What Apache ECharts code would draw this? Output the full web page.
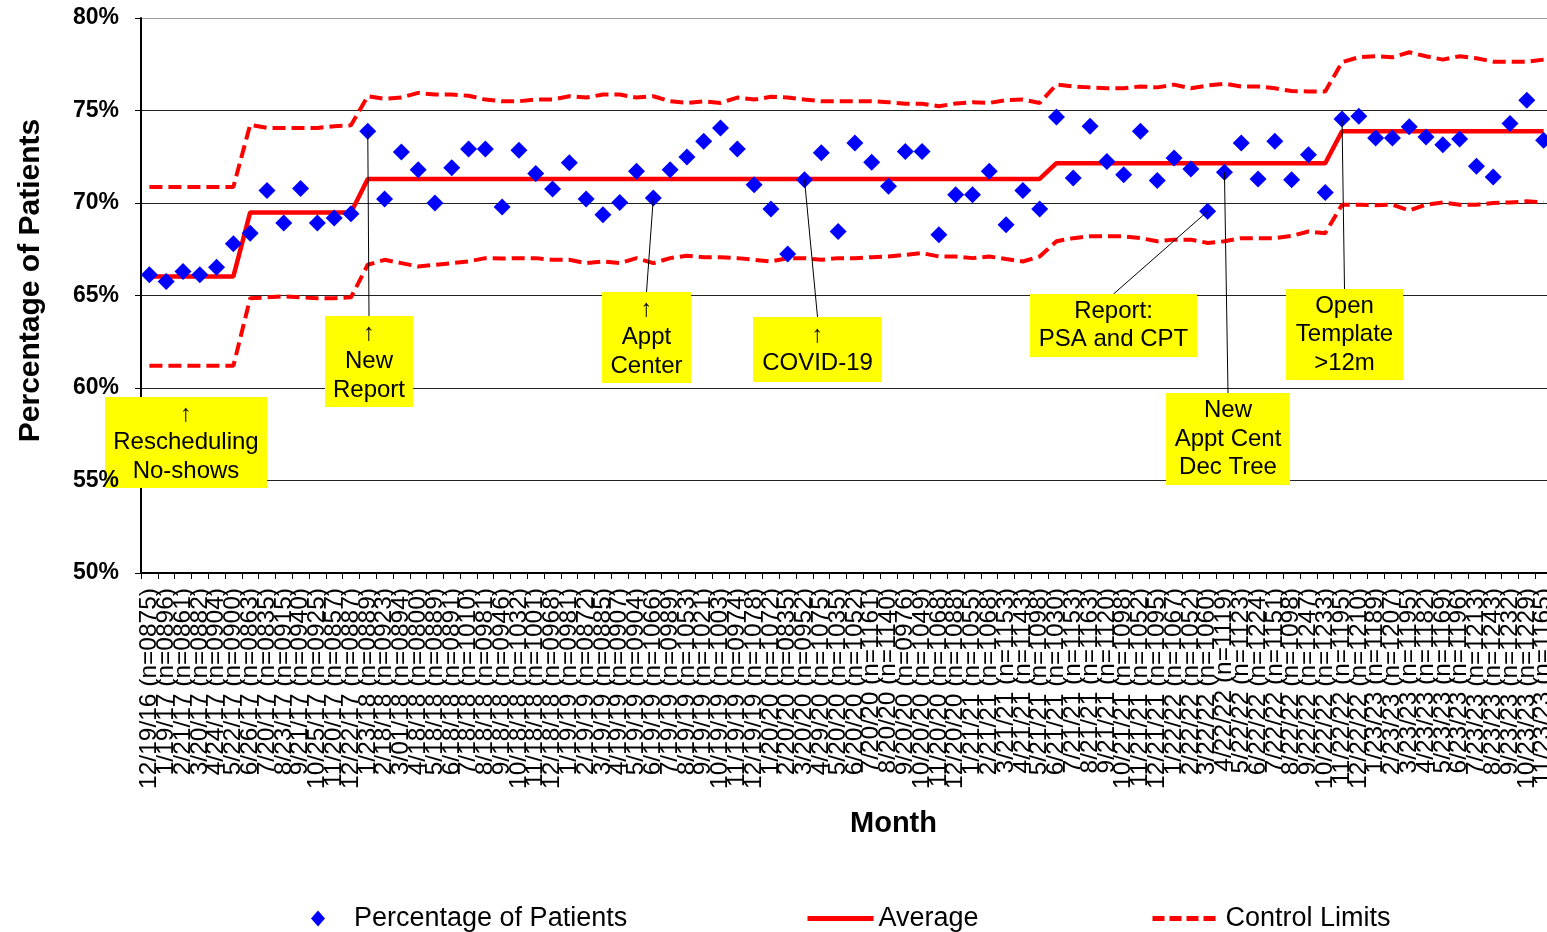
<!DOCTYPE html>
<html>
<head>
<meta charset="utf-8">
<script src="https://cdn.jsdelivr.net/npm/echarts@6/dist/echarts.min.js"></script>
<style>
  html, body { margin: 0; padding: 0; background: #fff; }
  #myChart { width: 1547px; height: 932px; }
</style>
</head>
<body>
<div id="myChart"></div>
<script>
// 月份 (日期 + 样本数)
var dates = ['12/19/16',
  '1/19/17', '2/21/17', '3/20/17', '4/24/17', '5/22/17', '6/26/17', '7/20/17', '8/23/17', '9/21/17', '10/25/17', '11/20/17', '12/22/17',
  '1/23/18', '2/18/18', '3/01/18', '4/18/18', '5/18/18', '6/18/18', '7/18/18', '8/18/18', '9/18/18', '10/18/18', '11/18/18', '12/18/18',
  '1/19/19', '2/19/19', '3/19/19', '4/19/19', '5/19/19', '6/19/19', '7/19/19', '8/19/19', '9/19/19', '10/19/19', '11/19/19', '12/19/19',
  '1/20/20', '2/20/20', '3/20/20', '4/29/20', '5/20/20', '6/20/20', '7/20/20', '8/20/20', '9/20/20', '10/20/20', '11/20/20', '12/20/20',
  '1/21/21', '2/21/21', '3/21/21', '4/21/21', '5/21/21', '6/21/21', '7/21/21', '8/21/21', '9/21/21', '10/21/21', '11/21/21', '12/21/21',
  '1/22/22', '2/22/22', '3/22/22', '4/22/22', '5/22/22', '6/22/22', '7/22/22', '8/22/22', '9/22/22', '10/22/22', '11/22/22', '12/22/22',
  '1/23/23', '2/23/23', '3/23/23', '4/23/23', '5/23/23', '6/23/23', '7/23/23', '8/23/23', '9/23/23', '10/23/23', '11/23/23'];
var counts = ['0875', '0896', '0861', '0882', '0904', '0900', '0863', '0835', '0915', '0940', '0925', '0857', '0887',
  '0889', '0923', '0894', '0800', '0889', '0891', '1010', '0981', '0946', '1032', '1001',
  '0968', '0981', '0872', '0885', '0907', '0904', '1066', '0989', '1053', '1021', '1003', '0974',
  '1078', '1072', '0835', '0952', '1075', '1035', '1052', '1161', '1140', '0976', '1049', '1068',
  '1088', '1055', '1068', '1153', '1143', '1098', '1030', '1153', '1163', '1120', '1098', '1052',
  '1095', '1067', '1052', '1060', '1119', '1123', '1224', '1151', '1098', '1247', '1233', '1195',
  '1210', '1189', '1207', '1195', '1182', '1169', '1196', '1213', '1243', '1232', '1229', '1165'];

// 百分比
var percentValues = [66.12, 65.76, 66.3, 66.12, 66.53, 67.8, 68.37, 70.68, 68.92, 70.79,
  68.92, 69.19, 69.42, 73.88, 70.22, 72.76, 71.8, 70.0, 71.9, 72.92,
  72.92, 69.78, 72.85, 71.59, 70.76, 72.17, 70.22, 69.37, 70.03, 71.71,
  70.27, 71.8, 72.49, 73.34, 74.06, 72.92, 70.99, 69.68, 67.25, 71.26,
  72.71, 68.46, 73.25, 72.2, 70.9, 72.79, 72.79, 68.28, 70.45, 70.45,
  71.71, 68.82, 70.68, 69.68, 74.65, 71.35, 74.15, 72.25, 71.53, 73.88,
  71.22, 72.43, 71.84, 69.55, 71.66, 73.25, 71.3, 73.34, 71.26, 72.61,
  70.57, 74.54, 74.69, 73.52, 73.52, 74.12, 73.57, 73.15, 73.46, 71.98,
  71.41, 74.3, 75.55, 73.39];

var averageValues = [66.03, 66.03, 66.03, 66.03, 66.03, 66.03,
  69.49, 69.49, 69.49, 69.49, 69.49, 69.49, 69.49,
  71.3, 71.3, 71.3, 71.3, 71.3, 71.3, 71.3, 71.3, 71.3, 71.3,
  71.3, 71.3, 71.3, 71.3, 71.3, 71.3, 71.3, 71.3, 71.3, 71.3,
  71.3, 71.3, 71.3, 71.3, 71.3, 71.3, 71.3, 71.3, 71.3, 71.3,
  71.3, 71.3, 71.3, 71.3, 71.3, 71.3, 71.3, 71.3, 71.3, 71.3, 71.3,
  72.15, 72.15, 72.15, 72.15, 72.15, 72.15, 72.15, 72.15, 72.15, 72.15, 72.15, 72.15, 72.15, 72.15, 72.15, 72.15, 72.15,
  73.88, 73.88, 73.88, 73.88, 73.88, 73.88, 73.88, 73.88, 73.88, 73.88, 73.88, 73.88, 73.88];

var upperLimits = [70.87, 70.87, 70.87, 70.87, 70.87, 70.87,
  74.23, 74.06, 74.06, 74.06, 74.06, 74.15, 74.2,
  75.77, 75.63, 75.7, 75.95, 75.86, 75.86, 75.8, 75.59, 75.5, 75.5,
  75.59, 75.59, 75.77, 75.7, 75.86, 75.86, 75.7, 75.77, 75.5, 75.41,
  75.5, 75.41, 75.7, 75.59, 75.74, 75.7, 75.59, 75.5, 75.5, 75.5,
  75.5, 75.45, 75.37, 75.37, 75.23, 75.38, 75.45, 75.41, 75.56, 75.59, 75.41,
  76.4, 76.3, 76.25, 76.2, 76.2, 76.3, 76.25, 76.4, 76.2, 76.35, 76.45, 76.3, 76.3, 76.2, 76.05, 76.03, 76.03,
  77.61, 77.88, 77.93, 77.88, 78.15, 77.93, 77.75, 77.93, 77.82, 77.64, 77.64, 77.64, 77.75];

var lowerLimits = [61.2, 61.2, 61.2, 61.2, 61.2, 61.2,
  64.85, 64.9, 64.95, 64.9, 64.85, 64.85, 64.9,
  66.66, 66.93, 66.75, 66.57, 66.66, 66.75, 66.84, 67.02, 67.0, 67.02,
  67.02, 66.93, 66.93, 66.75, 66.84, 66.75, 67.02, 66.75, 67.02, 67.15,
  67.07, 67.07, 67.02, 66.93, 66.84, 67.02, 67.02, 66.93, 67.02, 67.02,
  67.07, 67.11, 67.2, 67.29, 67.11, 67.11, 67.02, 67.11, 66.97, 66.84, 67.11,
  67.93, 68.1, 68.2, 68.2, 68.2, 68.1, 67.93, 68.02, 68.02, 67.84, 67.93, 68.1, 68.1, 68.1, 68.22, 68.46, 68.37,
  69.91, 69.91, 69.88, 69.91, 69.6, 69.91, 70.03, 69.91, 69.91, 70.0, 70.03, 70.09, 70.03];

// 注释: 文本, 指向的点
var noteTexts = ['↑\nRescheduling\nNo-shows', '↑\nNew\nReport', '↑\nAppt\nCenter', '↑\nCOVID-19',
  'Report:\nPSA and CPT', 'New\nAppt Cent\nDec Tree', 'Open\nTemplate\n>12m'];
var noteIndex = [null, 13, 30, 39, 63, 64, 71];
// 注释框位置 [x, y, w, h]
var noteBoxes = [[105, 397, 162, 91], [325, 316, 88, 91], [602, 292, 89, 91], [753, 317, 129, 65],
  [1030, 294, 167, 63], [1166, 393, 124, 92], [1286, 289, 117, 91]];

var FONT = '"Liberation Sans", Arial, "DejaVu Sans", sans-serif';

var labels = dates.map(function (d, i) { return d + ' (n=' + counts[i] + ')'; });

var myChart = echarts.init(document.getElementById('myChart'));

var yLabelStyle = { formatter: '{value}%', fontSize: 23, fontWeight: 'bold', color: '#000', margin: 22, fontFamily: FONT };

myChart.setOption({
  animation: false,
  textStyle: { fontFamily: FONT },
  grid: {
    left: 141,
    right: -5,
    top: 18,
    bottom: 359,
    containLabel: false,
    outerBoundsMode: 'none'
  },
  legend: [
    {
      data: ['Percentage of Patients'],
      left: 306, top: 900,
      itemWidth: 14, itemHeight: 16,
      textStyle: { fontSize: 27, color: '#000', fontFamily: FONT, padding: [0, 0, 0, 24] }
    },
    {
      data: ['Average'],
      left: 800, top: 900,
      itemWidth: 66, itemHeight: 16,
      itemStyle: { opacity: 0 },
      lineStyle: { width: 5 },
      textStyle: { fontSize: 27, color: '#000', fontFamily: FONT }
    },
    {
      data: ['Control Limits'],
      left: 1145, top: 900,
      itemWidth: 68, itemHeight: 16,
      itemStyle: { opacity: 0 },
      lineStyle: { width: 5, type: [12, 5] },
      textStyle: { fontSize: 27, color: '#000', fontFamily: FONT }
    }
  ],
  xAxis: {
    type: 'category',
    data: labels,
    boundaryGap: true,
    name: 'Month',
    nameLocation: 'middle',
    nameGap: 236,
    nameTextStyle: { fontSize: 29, fontWeight: 'bold', color: '#000', fontFamily: FONT, padding: [0, 0, 0, 94] },
    axisLine: { lineStyle: { color: '#000', width: 2 } },
    axisTick: { show: true, interval: 0, alignWithLabel: false, length: 6, lineStyle: { color: '#000' } },
    axisLabel: { interval: 0, rotate: 90, fontSize: 24.5, color: '#000', margin: 15, fontFamily: FONT },
    splitLine: { show: false }
  },
  yAxis: [
    {
      type: 'value',
      min: 50,
      max: 80,
      interval: 5,
      name: 'Percentage of Patients',
      nameLocation: 'middle',
      nameGap: 95,
      nameTextStyle: { fontSize: 30, fontWeight: 'bold', color: '#000', fontFamily: FONT, padding: [0, 0, 0, 30] },
      axisLine: { show: true, lineStyle: { color: '#000', width: 2 } },
      axisTick: { show: true, length: 6, lineStyle: { color: '#000' } },
      axisLabel: { show: false },
      splitLine: { show: true, lineStyle: { color: ['#222', '#222', '#222', '#222', '#222', '#222', '#999'], width: 1.2 } }
    },
    {
      // 只显示刻度文字, 放在注释框上面
      type: 'value',
      position: 'left',
      min: 50,
      max: 80,
      interval: 5,
      z: 100,
      axisLine: { show: false },
      axisTick: { show: false },
      splitLine: { show: false },
      axisLabel: yLabelStyle
    }
  ],
  series: [
    {
      name: 'Average',
      type: 'line',
      data: averageValues,
      symbol: 'none',
      z: 2,
      lineStyle: { color: '#FF0000', width: 4.5 },
      itemStyle: { color: '#FF0000' }
    },
    {
      name: 'Control Limits',
      type: 'line',
      data: upperLimits,
      symbol: 'none',
      z: 2,
      lineStyle: { color: '#FF0000', width: 4, type: [13, 6] },
      itemStyle: { color: '#FF0000' }
    },
    {
      name: 'Control Limits',
      type: 'line',
      data: lowerLimits,
      symbol: 'none',
      z: 2,
      lineStyle: { color: '#FF0000', width: 4, type: [13, 6] },
      itemStyle: { color: '#FF0000' }
    },
    {
      name: 'Percentage of Patients',
      type: 'scatter',
      data: percentValues,
      symbol: 'diamond',
      symbolSize: [17, 17],
      z: 4,
      itemStyle: { color: '#0000FF', opacity: 1 }
    }
  ]
});

// 注释框和引线
var graphics = [];
noteTexts.forEach(function (txt, k) {
  var b = noteBoxes[k];
  var cx = b[0] + b[2] / 2;
  if (noteIndex[k] !== null) {
    var p = myChart.convertToPixel({ xAxisIndex: 0, yAxisIndex: 0 }, [noteIndex[k], percentValues[noteIndex[k]]]);
    graphics.push({
      type: 'line',
      z: 50,
      shape: { x1: cx, y1: b[1], x2: p[0], y2: p[1] },
      style: { stroke: '#000', lineWidth: 1 }
    });
  }
  graphics.push({
    type: 'rect',
    z: 60,
    shape: { x: b[0], y: b[1], width: b[2], height: b[3] },
    style: { fill: '#FFFF00' }
  });
  graphics.push({
    type: 'text',
    z: 61,
    style: {
      text: txt,
      x: cx,
      y: b[1] + b[3] / 2,
      fill: '#000',
      font: '24px ' + FONT,
      textAlign: 'center',
      textVerticalAlign: 'middle',
      align: 'center',
      verticalAlign: 'middle',
      lineHeight: 28.5
    }
  });
});
myChart.setOption({ graphic: graphics });
</script>
</body>
</html>
